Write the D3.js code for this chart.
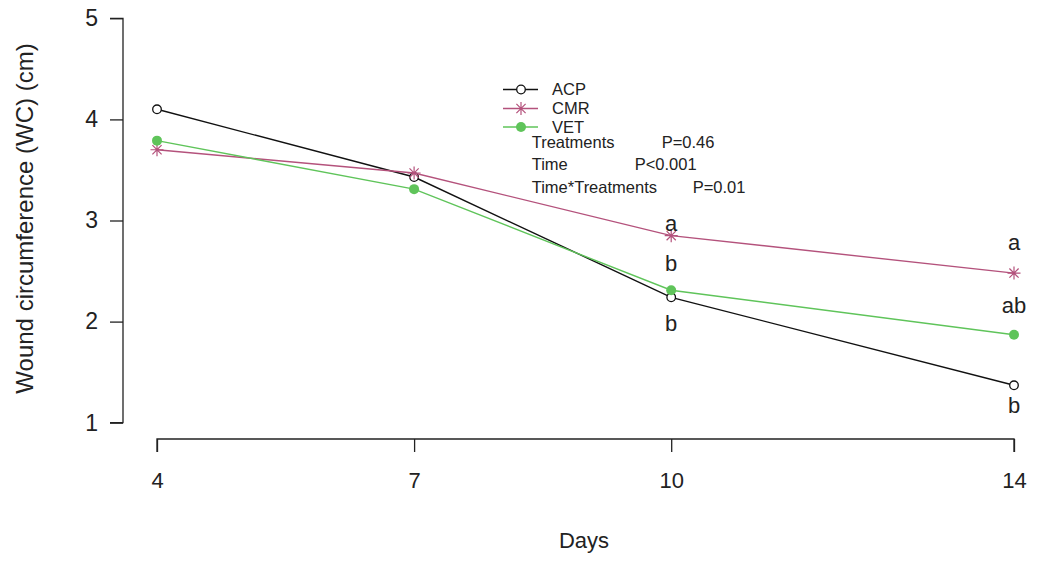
<!DOCTYPE html>
<html>
<head>
<meta charset="utf-8">
<script src="https://cdn.jsdelivr.net/npm/d3@7"></script>
<style>
  body { margin: 0; background: #fff; }
  svg text { font-family: "Liberation Sans", Arial, sans-serif; fill: #222; }
</style>
</head>
<body>
<svg id="chart" width="1037" height="561"></svg>
<script>
// data
var days = [4, 7, 10, 14];
var yTicks = [1, 2, 3, 4, 5];
var acpValues = [4.10, 3.43, 2.24, 1.37];
var cmrValues = [3.70, 3.47, 2.85, 2.48];
var vetValues = [3.79, 3.31, 2.31, 1.87];

// letters at the last two days (text, day, y value)
var letterText = ["a", "b", "b", "a", "ab", "b"];
var letterDay = [10, 10, 10, 14, 14, 14];
var letterY = [2.975, 2.58, 1.986, 2.79, 2.164, 1.175];

var statNames = ["Treatments", "Time", "Time*Treatments"];
var statValues = ["P=0.46", "P<0.001", "P=0.01"];
var statOffset = [130, 103, 161];

var series = [
  {name: "ACP", values: acpValues, color: "#111111", pch: "open"},
  {name: "CMR", values: cmrValues, color: "#b4527c", pch: "star"},
  {name: "VET", values: vetValues, color: "#5fc45a", pch: "dot"}
];

var svg = d3.select("#chart");

var x = d3.scaleLinear().domain([4, 14]).range([157, 1014]);
var y = d3.scaleLinear().domain([1, 5]).range([422.7, 18.3]);

// y axis, R style
var yAxis = d3.axisLeft(y).tickValues(yTicks).tickSize(13).tickPadding(12).tickFormat(d3.format("d"));
var gy = svg.append("g").attr("transform", "translate(123,0)").call(yAxis);
gy.select(".domain").attr("d", "M-13," + y(1) + "H0V" + y(5) + "H-13").attr("stroke", "#222").attr("stroke-width", 1.3);
gy.selectAll(".tick line").attr("stroke", "#222").attr("stroke-width", 1.3);
gy.selectAll(".tick text").attr("font-size", 23).attr("fill", "#222").style("font-family", "'Liberation Sans', Arial, sans-serif");

// x axis
var xAxis = d3.axisBottom(x).tickValues(days).tickSize(13).tickPadding(20).tickFormat(d3.format("d"));
var gx = svg.append("g").attr("transform", "translate(0,439)").call(xAxis);
gx.select(".domain").attr("d", "M" + x(4) + ",13V0H" + x(14) + "V13").attr("stroke", "#222").attr("stroke-width", 1.3);
gx.selectAll(".tick line").attr("stroke", "#222").attr("stroke-width", 1.3);
gx.selectAll(".tick text").attr("font-size", 22).attr("fill", "#222").style("font-family", "'Liberation Sans', Arial, sans-serif");

// axis titles
svg.append("text").attr("x", 584).attr("y", 548).attr("text-anchor", "middle")
  .attr("font-size", 22).text("Days");
svg.append("text").attr("transform", "translate(33,218.5) rotate(-90)").attr("text-anchor", "middle")
  .attr("font-size", 24).text("Wound circumference (WC) (cm)");

var line = d3.line().x(function(d, i) { return x(days[i]); }).y(function(d) { return y(d); });

function drawMarker(g, px, py, s) {
  if (s.pch == "open") {
    g.append("circle").attr("cx", px).attr("cy", py).attr("r", 4.3)
      .attr("fill", "#fff").attr("stroke", s.color).attr("stroke-width", 1.3);
  } else if (s.pch == "dot") {
    g.append("circle").attr("cx", px).attr("cy", py).attr("r", 5).attr("fill", s.color);
  } else {
    var r = 6.5, d = r * 0.7071;
    var p = "M" + (px - r) + "," + py + "H" + (px + r) +
      "M" + px + "," + (py - r) + "V" + (py + r) +
      "M" + (px - d) + "," + (py - d) + "L" + (px + d) + "," + (py + d) +
      "M" + (px - d) + "," + (py + d) + "L" + (px + d) + "," + (py - d);
    g.append("path").attr("d", p).attr("stroke", s.color).attr("stroke-width", 1.2).attr("fill", "none");
  }
}

series.forEach(function(s) {
  var g = svg.append("g");
  g.append("path").attr("d", line(s.values)).attr("fill", "none")
    .attr("stroke", s.color).attr("stroke-width", 1.4);
  s.values.forEach(function(v, i) {
    drawMarker(g, x(days[i]), y(v), s);
  });
});

// significance letters
letterText.forEach(function(t, i) {
  svg.append("text").attr("x", x(letterDay[i])).attr("y", y(letterY[i])).attr("dy", "0.36em")
    .attr("text-anchor", "middle").attr("font-size", 22).text(t);
});

// legend
var legendRows = [89.5, 108.5, 127];
series.forEach(function(s, i) {
  var g = svg.append("g").attr("transform", "translate(503," + legendRows[i] + ")");
  g.append("line").attr("x1", 0).attr("x2", 35).attr("y1", 0).attr("y2", 0)
    .attr("stroke", s.color).attr("stroke-width", 1.4);
  drawMarker(g, 18, 0, s);
  g.append("text").attr("x", 49).attr("y", 0).attr("dy", "0.36em").attr("font-size", 16.5).text(s.name);
});

// stats text
statNames.forEach(function(n, i) {
  var ty = 142 + i * 22.5;
  svg.append("text").attr("x", 531.7).attr("y", ty).attr("dy", "0.36em").attr("font-size", 16.5).text(n);
  svg.append("text").attr("x", 531.7 + statOffset[i]).attr("y", ty).attr("dy", "0.36em").attr("font-size", 16.5).text(statValues[i]);
});
</script>
</body>
</html>
